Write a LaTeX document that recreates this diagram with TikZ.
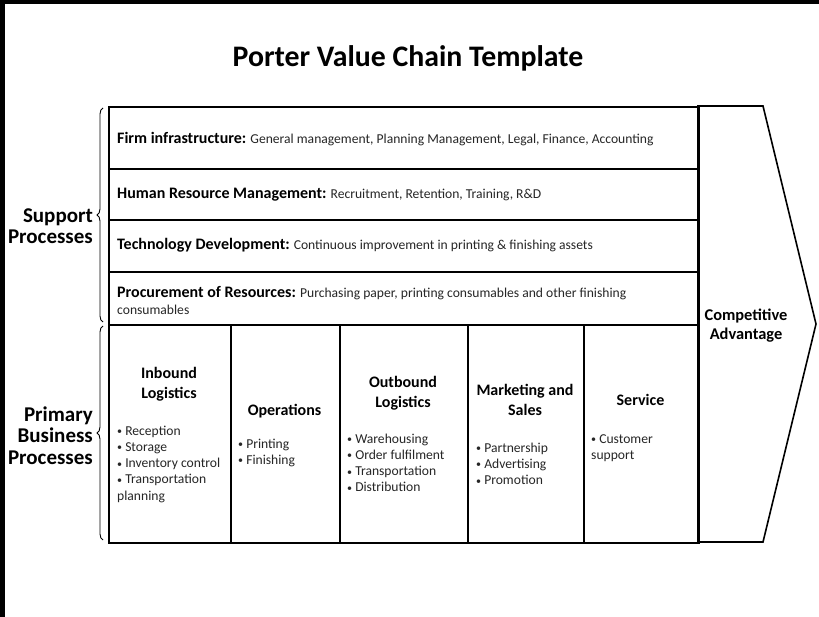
\documentclass[tikz,border=0pt]{standalone}
\usepackage{fontspec}
\setmainfont{Carlito}
\usetikzlibrary{decorations.pathreplacing}
\colorlet{bodyink}{black!85}
% small list bullet followed by a word space
\newcommand{\itm}{{\fontsize{10}{0}\selectfont\raisebox{0.6pt}{•}}\ }
\begin{document}
% multi-line nodes are placed by the baseline of their last line
\begin{tikzpicture}[x=1pt,y=-1pt,
  cell/.style={draw=black, line width=1.6pt, anchor=north west, inner sep=0pt},
  rowtxt/.style={anchor=base west, inner sep=0pt, align=left, text=bodyink,
    font=\fontsize{13.6}{17}\selectfont},
  head/.style={anchor=base, inner sep=0pt, align=center,
    font=\bfseries\fontsize{16}{20}\selectfont},
  items/.style={anchor=base west, inner sep=0pt, align=left, text=bodyink,
    font=\fontsize{13.6}{16.3}\selectfont},
  side/.style={anchor=base east, inner sep=0pt, align=right,
    font=\bfseries\fontsize{21}{21.5}\selectfont},
  bracket/.style={decorate, decoration={brace, amplitude=6pt}, line width=0.9pt}]
% frame of the sheet
\fill[black] (0,0) rectangle (819,617);
\fill[white] (5,4) rectangle (819,617);
\useasboundingbox (0,0) rectangle (819,617);

\node[anchor=base, inner sep=0pt, font=\bfseries\fontsize{29.8}{34}\selectfont]
  (title) at (408,67) {Porter Value Chain Template};

% support activities
\node[cell, minimum width=590pt, minimum height=62pt] (r1) at (108,106) {};
\node[cell, minimum width=590pt, minimum height=51pt] (r2) at (108,168) {};
\node[cell, minimum width=590pt, minimum height=52pt] (r3) at (108,219) {};
\node[cell, minimum width=590pt, minimum height=53pt] (r4) at (108,271) {};

\newcommand{\rowhead}[1]{{\color{black}\bfseries\fontsize{16}{19}\selectfont #1}}
\node[rowtxt] (t1) at (117,144) {\rowhead{Firm infrastructure:} General management, Planning Management, Legal, Finance, Accounting};
\node[rowtxt] (t2) at (117,199) {\rowhead{Human Resource Management:} Recruitment, Retention, Training, R\&D};
\node[rowtxt] (t3) at (117,250) {\rowhead{Technology Development:} Continuous improvement in printing \& finishing assets};
\node[rowtxt] (t4) at (117,315) {\rowhead{Procurement of Resources:} Purchasing paper, printing consumables and other finishing\\consumables};

% primary activities
\node[cell, minimum width=122pt, minimum height=218pt] (c1) at (108,324) {};
\node[cell, minimum width=109pt, minimum height=218pt] (c2) at (230,324) {};
\node[cell, minimum width=128pt, minimum height=218pt] (c3) at (339,324) {};
\node[cell, minimum width=116pt, minimum height=218pt] (c4) at (467,324) {};
\node[cell, minimum width=115pt, minimum height=218pt] (c5) at (583,324) {};

\node[head] (h1) at (169,398) {Inbound\\Logistics};
\node[items] (b1) at (117,500.2) {\itm Reception\\\itm Storage\\\itm Inventory control\\\itm Transportation\\planning};

\node[head] (h2) at (284.5,415) {Operations};
\node[items] (b2) at (238,464.3) {\itm Printing\\\itm Finishing};

\node[head] (h3) at (403,407) {Outbound\\Logistics};
\node[items] (b3) at (347,491.9) {\itm Warehousing\\\itm Order fulfilment\\\itm Transportation\\\itm Distribution};

\node[head] (h4) at (525,415.5) {Marketing and\\Sales};
\node[items] (b4) at (476,484.6) {\itm Partnership\\\itm Advertising\\\itm Promotion};

\node[head] (h5) at (640.5,406) {Service};
\node[items] (b5) at (591,459.3) {\itm Customer\\support};

% margin arrow
\draw[line width=1.6pt, line join=miter] (698,106) -- (763,106) -- (816,324) -- (763,542) -- (698,542) -- cycle;
\node[head, font=\bfseries\fontsize{16.4}{19}\selectfont] (ca) at (746,340) {Competitive\\Advantage};

% group braces and labels
\draw[bracket] (103,322) -- (103,108);
\draw[bracket] (103,540) -- (103,326);
\node[side] (sp) at (93,244) {Support\\Processes};
\node[side] (pp) at (93,464) {Primary\\Business\\Processes};
\end{tikzpicture}
\end{document}
